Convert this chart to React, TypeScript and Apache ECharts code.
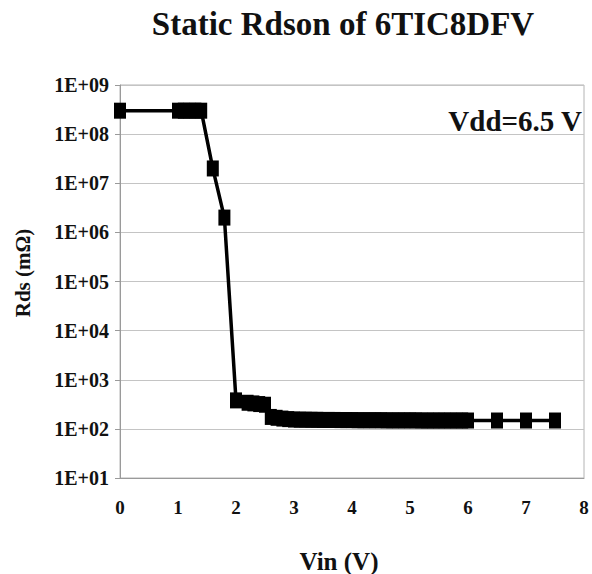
import React, { useEffect, useRef } from "react";
import * as echarts from "echarts";

const chartTitle = "Static Rdson of 6TIC8DFV";
const xAxisName = "Vin (V)";
const yAxisName = "Rds (mΩ)";
const annotation = "Vdd=6.5 V";

const vin = [
  0, 1.0, 1.1, 1.2, 1.3, 1.4, 1.6, 1.8, 2.0, 2.2, 2.3, 2.4, 2.5,
  2.6, 2.7, 2.8, 2.9, 3.0, 3.1, 3.2, 3.3, 3.4, 3.5, 3.6, 3.7, 3.8, 3.9,
  4.0, 4.1, 4.2, 4.3, 4.4, 4.5, 4.6, 4.7, 4.8, 4.9, 5.0, 5.1, 5.2, 5.3,
  5.4, 5.5, 5.6, 5.7, 5.8, 5.9, 6.0, 6.5, 7.0, 7.5,
];

const rds = [
  3e8, 3e8, 3e8, 3e8, 3e8, 3e8, 2e7, 2e6, 380, 340, 330, 320, 310,
  175, 168, 162, 158, 155, 154, 154, 153, 153, 152, 152, 152, 151, 151,
  151, 150, 150, 150, 150, 150, 149, 149, 149, 149, 149, 149, 148, 148,
  148, 148, 148, 148, 148, 148, 148, 148, 148, 148,
];

const xTickLabels = ["0", "1", "2", "3", "4", "5", "6", "7", "8"];
const yTickLabels = [
  "1E+01", "1E+02", "1E+03", "1E+04", "1E+05", "1E+06", "1E+07", "1E+08", "1E+09",
];

const FONT = "'Liberation Serif', 'Times New Roman', serif";

export default function App() {
  const ref = useRef<HTMLDivElement>(null);
  useEffect(() => {
    if (!ref.current) return;
    const chart = echarts.init(ref.current, undefined, { renderer: "svg" });
    const data = vin.map((v, i) => [v, rds[i]]);
    chart.setOption({
      animation: false,
      backgroundColor: "#ffffff",
      grid: {
        left: 120,
        right: 8,
        top: 85,
        bottom: 96,
        show: true,
        borderColor: "#b4b4b4",
        borderWidth: 1,
        backgroundColor: "transparent",
      },
      xAxis: {
        type: "value",
        min: 0,
        max: 8,
        interval: 1,
        axisLine: { show: true, lineStyle: { color: "#9a9a9a", width: 1 } },
        axisTick: { show: false },
        splitLine: { show: false },
        axisLabel: {
          margin: 20,
          fontFamily: FONT,
          fontWeight: "bold",
          fontSize: 19,
          color: "#111",
          formatter: (v: number) => xTickLabels[Math.round(v)] ?? "",
        },
      },
      yAxis: {
        type: "log",
        logBase: 10,
        min: 10,
        max: 1e9,
        axisLine: { show: true, lineStyle: { color: "#9a9a9a", width: 1 } },
        axisTick: { show: true, inside: false, length: 5, lineStyle: { color: "#9a9a9a" } },
        minorTick: { show: false },
        splitLine: { show: true, lineStyle: { color: "#c4c4c4", width: 1 } },
        axisLabel: {
          margin: 11,
          fontFamily: FONT,
          fontWeight: "bold",
          fontSize: 20,
          color: "#111",
          formatter: (v: number) => {
            const e = Math.round(Math.log10(v));
            return yTickLabels[e - 1] ?? "";
          },
        },
      },
      series: [
        {
          type: "line",
          data,
          symbol: "rect",
          symbolSize: [12, 16],
          showSymbol: true,
          lineStyle: { color: "#000", width: 3.5 },
          itemStyle: { color: "#000" },
          z: 5,
        },
      ],
      graphic: [
        {
          type: "text",
          x: 343,
          y: 24,
          style: {
            text: chartTitle,
            fontFamily: FONT,
            fontWeight: "bold",
            fontSize: 33,
            fill: "#111",
            align: "center",
            verticalAlign: "middle",
          },
        },
        {
          type: "text",
          x: 582,
          y: 121,
          style: {
            text: annotation,
            fontFamily: FONT,
            fontWeight: "bold",
            fontSize: 29,
            fill: "#111",
            align: "right",
            verticalAlign: "middle",
          },
        },
        {
          type: "text",
          x: 339,
          y: 561,
          style: {
            text: xAxisName,
            fontFamily: FONT,
            fontWeight: "bold",
            fontSize: 25,
            fill: "#111",
            align: "center",
            verticalAlign: "middle",
          },
        },
        {
          type: "text",
          x: 23,
          y: 273,
          rotation: Math.PI / 2,
          style: {
            text: yAxisName,
            fontFamily: FONT,
            fontWeight: "bold",
            fontSize: 21,
            fill: "#111",
            align: "center",
            verticalAlign: "middle",
          },
        },
      ],
    });
    return () => chart.dispose();
  }, []);
  return (
    <div
      ref={ref}
      style={{ position: "fixed", left: 0, top: 0, width: 592, height: 574 }}
    />
  );
}
